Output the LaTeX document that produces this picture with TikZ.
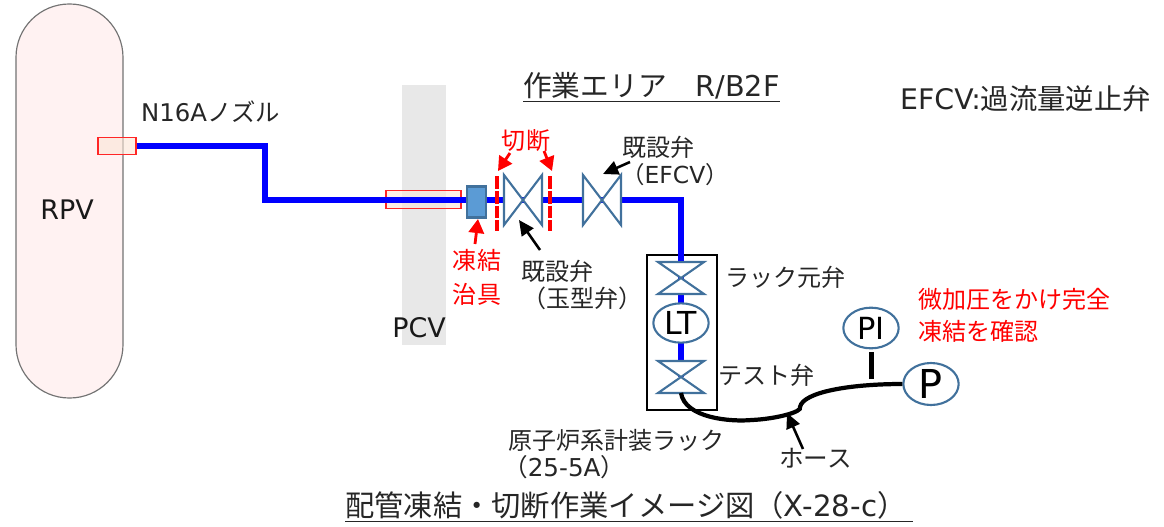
\documentclass[tikz,border=0pt]{standalone}
\usepackage{fontspec}
\setmainfont{DejaVu Sans}
\newfontfamily\cjk{Noto Sans CJK JP}
\usetikzlibrary{shapes, arrows.meta, positioning, calc}
\definecolor{pipeblue}{RGB}{0, 0, 255}
\definecolor{valveblue}{RGB}{65, 113, 156}
\definecolor{jigblue}{RGB}{91, 155, 213}
\definecolor{vesselpink}{RGB}{255, 242, 242}
\definecolor{bandgray}{RGB}{232, 232, 232}
\definecolor{sleevefill}{RGB}{251, 229, 214}

\begin{document}
\begin{tikzpicture}[
  x=0.03cm, y=-0.03cm,
  lbl/.style={inner sep=0pt, font=\fontsize{20.5}{24}\selectfont\cjk, text=black!85, align=left},
  redlbl/.style={lbl, text=red},
  biglbl/.style={inner sep=0pt, font=\fontsize{23}{26}\selectfont, text=black!90},
  headlbl/.style={lbl, font=\fontsize{24.5}{28}\selectfont\cjk},
  pipe/.style={draw=pipeblue, line width=5.6pt},
  sleeve/.style={draw=red!85, line width=1.2pt, fill=sleevefill, fill opacity=0.6},
  gauge/.style={ellipse, draw=valveblue, line width=1.8pt, fill=white, inner sep=0pt, minimum width=1.66cm, minimum height=1.18cm},
  cutline/.style={draw=red, line width=3.6pt, dash pattern=on 11pt off 1.6pt},
  redarrow/.style={-{Triangle[length=12pt, width=13pt]}, draw=red, fill=red, line width=2.4pt},
  blackarrow/.style={-{Triangle[length=13pt, width=12pt]}, black, line width=2.2pt},
  hose/.style={draw=black, line width=3.6pt},
  hvalve/.pic={\draw[valveblue, fill=white, line width=1.8pt] (-19,-25) -- (19,25) -- (19,-25) -- (-19,25) -- cycle;},
  vvalve/.pic={\draw[valveblue, fill=white, line width=1.8pt] (-23,-16) -- (23,16) -- (-23,16) -- (23,-16) -- cycle;}
]
  \useasboundingbox (0,0) rectangle (1164,526);

  \node[draw=black!55, line width=1pt, fill=vesselpink, rounded corners=1.6cm, minimum width=3.21cm, minimum height=11.82cm] (rpv) at (69.5,201) {};
  \node[fill=bandgray, minimum width=1.32cm, minimum height=7.8cm] (pcv) at (424,215) {};
  \node[sleeve, minimum width=1.14cm, minimum height=0.5cm, inner sep=0pt] (nozzle) at (117,146) {};
  \node[sleeve, minimum width=2.25cm, minimum height=0.55cm, inner sep=0pt] (penetration) at (423.5,199.5) {};
  \node[draw=valveblue, line width=1.8pt, fill=jigblue, minimum width=0.55cm, minimum height=0.93cm, inner sep=0pt] (jig) at (476.5,202) {};
  \node[draw=black, line width=2.2pt, minimum width=2.1cm, minimum height=4.65cm] (rack) at (682,332.5) {};

  \coordinate (pipelow) at (265,200);
  \coordinate (pipejig) at (jig.east |- pipelow);
  \coordinate (pipecorner) at (681,200);
  \coordinate (cutvalve) at (523,200);
  \coordinate (efcvvalve) at (602,200);
  \coordinate (rootvalve) at (681,278);
  \coordinate (testvalve) at (681,377);
  \coordinate (hosestart) at (681,393);
  \coordinate (hosedip) at (800,407);
  \coordinate (barjoin) at (871.5,379);
  \coordinate (bartop) at (871.5,352);

  \draw[pipe] (nozzle.east) -| (pipelow) -- (jig.west |- pipelow);
  \draw[pipe] (pipejig) -- (pipecorner) -- (rootvalve);
  \draw[pipe] (rootvalve) -- (testvalve);
  \node[gauge] (lt) at (681,323) {\fontsize{27}{30}\selectfont LT};
  \node[gauge, minimum height=1.22cm] (pi) at (871,328) {\raisebox{-3pt}{\fontsize{26}{30}\selectfont PI}};
  \node[gauge, minimum height=1.26cm] (pump) at (931,384) {\raisebox{-3pt}{\fontsize{34}{36}\selectfont P}};

  \pic at (cutvalve) {hvalve};
  \pic at (efcvvalve) {hvalve};
  \pic at (rootvalve) {vvalve};
  \pic at (testvalve) {vvalve};

  \coordinate (cutleft) at (497,176);
  \coordinate (cutright) at (550,176);
  \draw[cutline] (cutleft) -- ++(0,55);
  \draw[cutline] (cutright) -- ++(0,55);

  \draw[hose] (hosestart) .. controls (685,418) and (730,422) .. (752,420) .. controls (775,419) and (803,412) .. (hosedip) .. controls (803,392) and (850,384) .. (pump.west);
  \draw[black, line width=4.6pt] (barjoin) -- (bartop);

  \node[biglbl, anchor=center] (rpvlbl) at (67,210) {RPV};
  \node[biglbl, anchor=center] (pcvlbl) at (419,328) {PCV};
  \node[lbl, anchor=west, font=\fontsize{20.8}{24}\selectfont] (nozzlelbl) at (141,112) {N16A{\cjk ノズル}};
  \node[headlbl, anchor=west] (arealbl) at (523,87) {\underline{\cjk 作業エリア　\normalfont R/B2F}};
  \node[headlbl, anchor=west, font=\fontsize{24.2}{28}\selectfont] (efcvlbl) at (900,99) {EFCV:{\cjk 過流量逆止弁}};
  \node[redlbl, anchor=center] (cutlbl) at (526,141) {切断};
  \node[lbl, anchor=west] (efcvname) at (622,147) {既設弁};
  \node[lbl, anchor=west, font=\fontsize{20}{24}\selectfont] (efcvtag) at (621,175) {{\cjk （}EFCV{\cjk ）}};
  \node[redlbl, anchor=center, align=center, font=\fontsize{20.5}{29}\selectfont\cjk] (jiglbl) at (477,277) {凍結\\治具};
  \node[lbl, anchor=west] (globename) at (521,271) {既設弁};
  \node[lbl, anchor=west] (globetag) at (522,298) {（玉型弁）};
  \node[lbl, anchor=west] (rootlbl) at (725,277) {ラック元弁};
  \node[lbl, anchor=west] (testlbl) at (718,375) {テスト弁};
  \node[lbl, anchor=west] (racklbl) at (508,440) {原子炉系計装ラック};
  \node[lbl, anchor=west, font=\fontsize{21}{24}\selectfont] (rackno) at (503,467) {{\cjk （}25-5A{\cjk ）}};
  \node[lbl, anchor=west, font=\fontsize{21}{24}\selectfont\cjk] (hoselbl) at (779,458) {ホース};
  \node[redlbl, anchor=north west, font=\fontsize{20.5}{27}\selectfont\cjk] (presslbl) at (918,288) {微加圧をかけ完全\\凍結を確認};
  \node[headlbl, anchor=west, font=\fontsize{25}{28}\selectfont\cjk] (titlelbl) at (345,507) {\underline{\cjk 配管凍結・切断作業イメージ図（\normalfont X-28-c\cjk ）\ }};

  \coordinate (cuttipl) at (498,171);
  \coordinate (cuttipr) at (552,171);
  \coordinate (cuttaill) at (510,153);
  \coordinate (cuttailr) at (544,151);
  \coordinate (jigtip) at (478,219);
  \coordinate (jigtail) at (475,244);
  \coordinate (efcvtip) at (603,174);
  \coordinate (efcvtail) at (630,162);
  \coordinate (globetip) at (519,220);
  \coordinate (globetail) at (540,250);
  \coordinate (hosetip) at (787,413);
  \coordinate (hosetail) at (803,449);
  \draw[redarrow] (cuttaill) -- (cuttipl);
  \draw[redarrow] (cuttailr) -- (cuttipr);
  \draw[redarrow] (jigtail) -- (jigtip);
  \draw[blackarrow] (efcvtail) -- (efcvtip);
  \draw[blackarrow] (globetail) -- (globetip);
  \draw[blackarrow] (hosetail) -- (hosetip);
\end{tikzpicture}
\end{document}
